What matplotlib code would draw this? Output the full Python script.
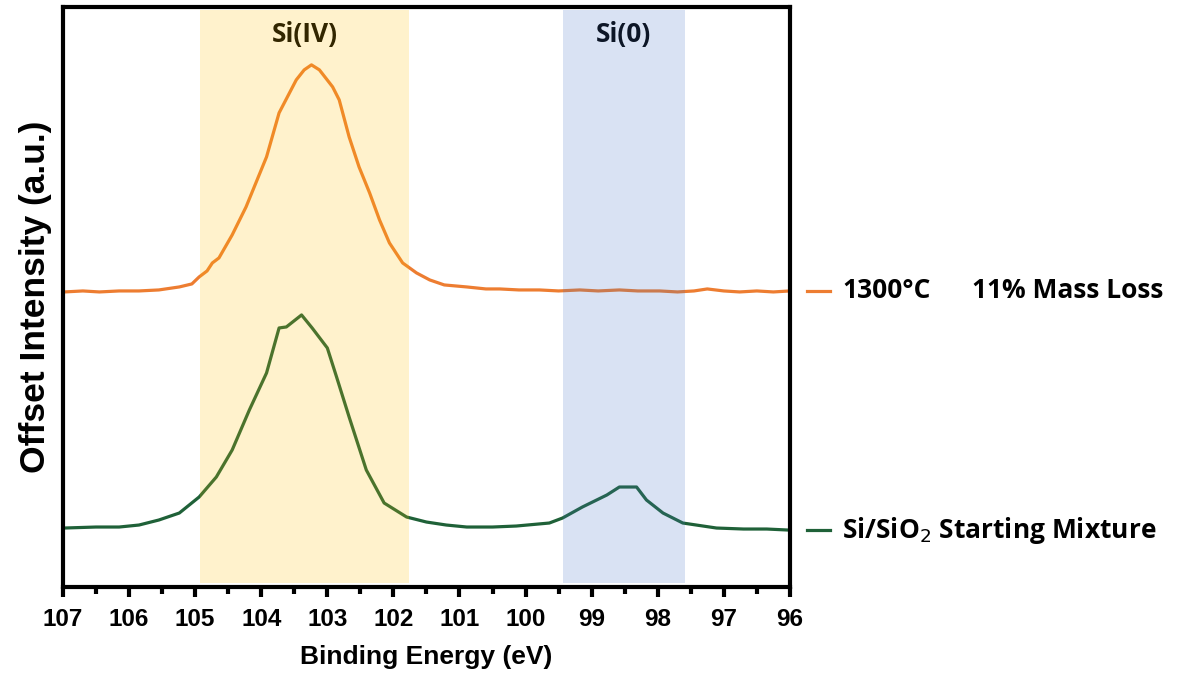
import matplotlib.pyplot as plt
from matplotlib.lines import Line2D
from matplotlib.transforms import blended_transform_factory

# binding energy (eV) and offset intensity (a.u.)
energy_1300 = [106.98, 106.7, 106.45, 106.15, 105.85, 105.55, 105.24, 105.05, 104.94, 104.82,
               104.74, 104.64, 104.44, 104.23, 103.92, 103.73, 103.47, 103.35, 103.24, 103.12,
               102.92, 102.82, 102.67, 102.52, 102.36, 102.21, 102.06, 101.86, 101.65, 101.45,
               101.23, 100.89, 100.6, 100.39, 100.1, 99.79, 99.5, 99.18, 98.9, 98.58, 98.3,
               97.97, 97.7, 97.45, 97.25, 97.0, 96.76, 96.5, 96.25, 96.0]
intensity_1300 = [295, 296, 295, 296, 296, 297, 300, 303, 310, 316,
                  324, 329, 352, 380, 430, 474, 507, 517, 522, 517,
                  500, 487, 450, 420, 394, 367, 344, 324, 314, 307,
                  302, 300, 298, 298, 297, 297, 296, 297, 296, 297, 296,
                  296, 295, 296, 298, 296, 295, 296, 295, 296]

energy_start = [106.98, 106.5, 106.15, 105.85, 105.55, 105.24, 104.94, 104.68, 104.44, 104.18,
                103.92, 103.73, 103.62, 103.39, 103.23, 103.0, 102.86, 102.67, 102.41, 102.14,
                101.8, 101.5, 101.2, 100.89, 100.5, 100.14, 99.64, 99.44, 99.14, 98.77,
                98.58, 98.32, 98.17, 97.92, 97.62, 97.11, 96.7, 96.35, 96.03]
intensity_start = [59, 60, 60, 62, 67, 74, 90, 110, 137, 177,
                   214, 259, 260, 272, 259, 239, 210, 170, 117, 84,
                   70, 65, 62, 60, 60, 61, 64, 69, 80, 92,
                   100, 100, 87, 74, 64, 59, 58, 58, 57]

regions = ['Si(IV)', 'Si(0)']
region_lo = [101.77, 97.59]
region_hi = [104.92, 99.44]
region_colors = ['#FFC000', '#4472C4']

fig = plt.figure(figsize=(11.78, 6.85), dpi=100)
ax = fig.add_axes([0.0535, 0.143, 0.6170, 0.847])

ax.plot(energy_1300, intensity_1300, color='#ED7D31', lw=2.3, zorder=2)
ax.plot(energy_start, intensity_start, color='#1F6138', lw=2.3, zorder=2)

# translucent bands drawn over the curves and labels
for name, lo, hi, c in zip(regions, region_lo, region_hi, region_colors):
    ax.axvspan(lo, hi, ymin=0.007, ymax=0.995, color=c, alpha=0.2, lw=0, zorder=5)
    ax.text((lo + hi) / 2, 0.952, name, transform=blended_transform_factory(ax.transData, ax.transAxes),
            ha='center', va='center', fontsize=19, fontweight='bold', family='Open Sans', color='black', zorder=3)

ax.set_xlim(107, 96)
ax.set_ylim(0, 580)
ax.set_xticks(range(96, 108))
ax.set_xticks([x + 0.5 for x in range(96, 107)], minor=True)
ax.set_yticks([])
for s in ax.spines.values():
    s.set_linewidth(3)
ax.tick_params(axis='x', which='major', direction='out', length=7, width=3, pad=8)
ax.tick_params(axis='x', which='minor', direction='out', length=5, width=3)
for lab in ax.get_xticklabels():
    lab.set_fontsize(17.5)
    lab.set_fontweight('bold')
    lab.set_family('Liberation Sans')

ax.set_xlabel('Binding Energy (eV)', fontsize=19, fontweight='bold', family='Liberation Sans', labelpad=10)
ax.set_ylabel('Offset Intensity (a.u.)', fontsize=25.5, fontweight='bold', family='Liberation Sans', labelpad=8)

# labels on the right of the frame
tr = blended_transform_factory(fig.transFigure, ax.transData)
for y, c in [(intensity_1300[-1], '#ED7D31'), (intensity_start[-1], '#1F6138')]:
    fig.add_artist(Line2D([807 / 1178, 830 / 1178], [y, y], transform=tr, color=c, lw=2.3))
ax.text(842 / 1178, intensity_1300[-1], '1300°C', transform=tr, va='center', ha='left',
        fontsize=19, fontweight='bold', family='Open Sans', clip_on=False)
ax.text(972 / 1178, intensity_1300[-1], '11% Mass Loss', transform=tr, va='center', ha='left',
        fontsize=19, fontweight='bold', family='Open Sans', clip_on=False)
ax.text(842 / 1178, intensity_start[-1], 'Si/SiO$_2$ Starting Mixture', transform=tr, va='center', ha='left',
        fontsize=19, fontweight='bold', family='Open Sans', clip_on=False)

fig.savefig('out.png', dpi=100)
